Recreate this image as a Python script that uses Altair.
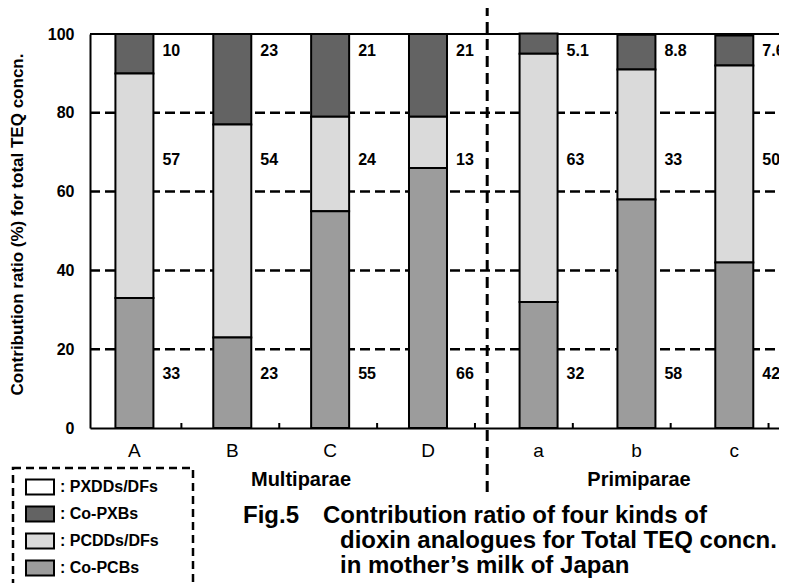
import altair as alt
import pandas as pd

# ---------------- data ----------------
categories = ["A", "B", "C", "D", "a", "b", "c"]
category_group = [0, 0, 0, 0, 1, 1, 1]
group_names = ["Multiparae", "Primiparae"]
series = ["PXDDs/DFs", "Co-PXBs", "PCDDs/DFs", "Co-PCBs"]  # legend order
pxdds = [0, 0, 0, 0, 0, 0, 0]
co_pxbs = [10, 23, 21, 21, 5.1, 8.8, 7.6]
pcdds = [57, 54, 24, 13, 63, 33, 50]
co_pcbs = [33, 23, 55, 66, 32, 58, 42]
y_ticks = [0, 20, 40, 60, 80, 100]

caption_head = "Fig.5"
caption_lines = [
    "Contribution ratio of four kinds of",
    "dioxin analogues for Total TEQ concn.",
    "in  mother\u2019s milk of Japan",
]
y_title = "Contribution ratio (%) for total TEQ concn."

# ---------------- styling / layout ----------------
FONT = "Liberation Sans"
fills = ["#ffffff", "#636363", "#dadada", "#9c9c9c"]
W, H = 689, 394
STEP = 99.3          # px per category
GROUP_GAP = 0.13     # extra space between the two groups (in categories)
X0 = -40 / STEP
x_domain = [X0, X0 + W / STEP]

idx = list(range(len(categories)))
pos = [i + GROUP_GAP * g for i, g in zip(idx, category_group)]

values = {"PXDDs/DFs": pxdds, "Co-PXBs": co_pxbs, "PCDDs/DFs": pcdds, "Co-PCBs": co_pcbs}
stack_rank = {"Co-PCBs": 0, "PCDDs/DFs": 1, "Co-PXBs": 2, "PXDDs/DFs": 3}
label_level = {"Co-PCBs": 13.7, "PCDDs/DFs": 68, "Co-PXBs": 95.7}

rows, lab_rows = [], []
for s in series:
    for i, (c, v) in enumerate(zip(categories, values[s])):
        rows.append(dict(cat=c, pos=pos[i], series=s, value=v, rank=stack_rank[s]))
        if s in label_level:
            lab_rows.append(dict(pos=pos[i], ly=label_level[s], label=f"{v:g}"))
df = pd.DataFrame(rows)
lab_df = pd.DataFrame(lab_rows)
cat_df = pd.DataFrame({"pos": pos, "cat": categories})

xs = alt.Scale(domain=x_domain, nice=False, zero=False)
ys = alt.Scale(domain=[0, 100], nice=False)

x_enc = alt.X(
    "pos:Q", scale=xs,
    axis=alt.Axis(labels=False, ticks=False, grid=False, domainColor="black",
                  domainWidth=2, title=None),
)
y_enc = alt.Y(
    "value:Q", stack="zero", scale=ys,
    axis=alt.Axis(values=y_ticks, grid=False, ticks=False, domainColor="black",
                  domainWidth=2, labelFontSize=16, labelFontWeight="bold",
                  labelColor="black", labelPadding=16, labelFont=FONT,
                  title=y_title, titleFontSize=17, titleFontWeight="bold",
                  titleColor="black", titleFont=FONT, titleX=-73, titleY=190,
                  titleBaseline="middle"),
)

grid_df = pd.DataFrame({"g": y_ticks[1:-1]})
grid = alt.Chart(grid_df).mark_rule(color="black", strokeWidth=2.5, strokeDash=[10, 5]).encode(
    y=alt.Y("g:Q", scale=ys), x=alt.value(0), x2=alt.value(W)
)
top = alt.Chart(pd.DataFrame({"g": [y_ticks[-1]]})).mark_rule(color="black", strokeWidth=2).encode(
    y=alt.Y("g:Q", scale=ys), x=alt.value(0), x2=alt.value(W)
)

bars = alt.Chart(df).transform_filter("datum.value > 0").mark_bar(
    size=38, stroke="black", strokeWidth=2
).encode(
    x=x_enc,
    y=y_enc,
    order=alt.Order("rank:Q"),
    fill=alt.Fill(
        "series:N",
        scale=alt.Scale(domain=series, range=fills),
        legend=alt.Legend(
            orient="none", legendX=-77, legendY=433, title=None, direction="vertical",
            symbolType="M-2,-1.07L2,-1.07L2,1.07L-2,1.07Z", symbolSize=196,
            symbolStrokeColor="black", symbolStrokeWidth=2, symbolOffset=7,
            labelFontSize=16, labelFontWeight="bold", labelColor="black",
            labelFont=FONT, labelOffset=12, rowPadding=3, padding=12,
            labelExpr="': ' + datum.label",
        ),
    ),
)

labels = alt.Chart(lab_df).mark_text(
    align="left", baseline="middle", dx=28, fontSize=16, fontWeight="bold", font=FONT, color="black"
).encode(x=alt.X("pos:Q", scale=xs), y=alt.Y("ly:Q", scale=ys), text="label:N")

cat_labels = alt.Chart(cat_df).mark_text(
    align="center", baseline="top", fontSize=19, font=FONT, color="black"
).encode(x=alt.X("pos:Q", scale=xs), y=alt.value(H + 14), text="cat:N")

tick_df = pd.DataFrame({"t": [i + 0.48 for i in idx if i + 0.48 < x_domain[1]]})
bticks = alt.Chart(tick_df).mark_rule(color="black", strokeWidth=2).encode(
    x=alt.X("t:Q", scale=xs), y=alt.value(H), y2=alt.value(H - 5)
)

div_df = pd.DataFrame({"d": [(pos[3] + pos[4]) / 2 + 0.04]})
divider = alt.Chart(div_df).mark_rule(color="black", strokeWidth=3, strokeDash=[11, 6]).encode(
    x=alt.X("d:Q", scale=xs), y=alt.value(-29), y2=alt.value(463)
)

def txt(t, x, y, size, align="left", baseline="alphabetic", weight="bold"):
    return alt.Chart(pd.DataFrame({"t": [t]})).mark_text(
        align=align, baseline=baseline, fontSize=size, fontWeight=weight, font=FONT, color="black"
    ).encode(text="t:N", x=alt.value(x), y=alt.value(y))

g1 = txt(group_names[0], 211, 446, 20, align="center", baseline="middle")
g2 = txt(group_names[1], 549, 446, 20, align="center", baseline="middle")
c0 = txt(caption_head, 153, 489, 24)
c1 = txt(caption_lines[0], 233, 489, 24)
c2 = txt(caption_lines[1], 250, 514, 24)
c3 = txt(caption_lines[2], 250, 539, 24)

box = alt.Chart(pd.DataFrame({"b": [0]})).mark_rect(
    fill=None, stroke="black", strokeWidth=2.5, strokeDash=[8, 5]
).encode(x=alt.value(-77), x2=alt.value(103), y=alt.value(434), y2=alt.value(580))

chart = alt.layer(
    grid, top, bars, labels, cat_labels, bticks, divider, g1, g2, c0, c1, c2, c3, box
).properties(
    width=W, height=H,
    padding={"left": 82, "top": 26, "right": 0, "bottom": 155},
    autosize=alt.AutoSizeParams(type="none"),
).configure_view(stroke=None).configure_text(font=FONT)

chart.save("out.html", embed_options={"renderer": "svg", "actions": False})
